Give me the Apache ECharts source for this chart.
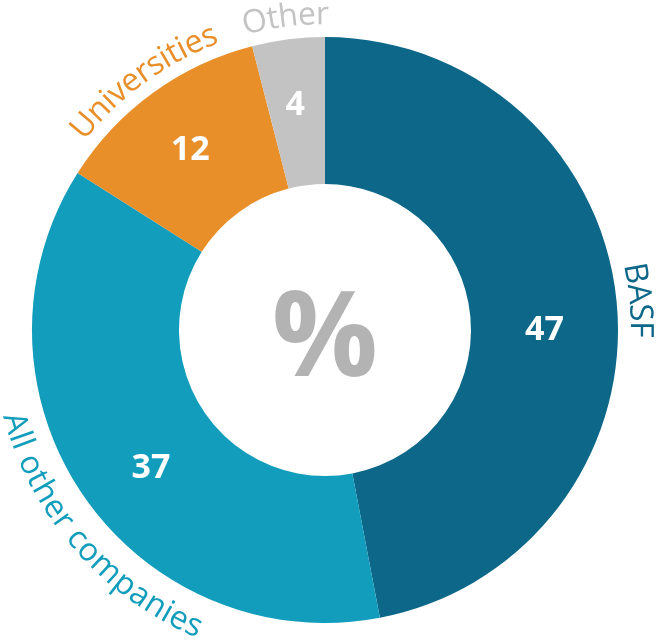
<!DOCTYPE html>
<html><head><meta charset="utf-8">
<script src="https://cdn.jsdelivr.net/npm/echarts@6/dist/echarts.min.js"></script>
<style>html,body{margin:0;padding:0;background:#fff}#c{width:660px;height:643px}</style>
</head><body><div id="c"></div>
<script>
// ---- data ----
const categories = ['BASF', 'All other companies', 'Universities', 'Other'];
const values = [47, 37, 12, 4];
const centerText = '%';

// ---- styles ----
const sliceColors = ['#0c6789', '#119dbb', '#e88f2a', '#c3c3c3'];
const nameColors  = ['#0c6789', '#119dbb', '#e88f2a', '#c3c3c3'];
const CX = 325, CY = 330, R_IN = 146, R_OUT = 293;
const FONT = '"Open Sans", "Noto Sans", sans-serif';
const NAME_SIZE = 32;
const NAME_WEIGHT = 500;
const R_TOP_MID = 315;     // radius of text middle for labels on the upper part (tops outward)
const R_BOTTOM_MID = 324;  // radius of text middle for labels reading along the bottom (tops inward)
const nameAngleShift = { 'All other companies': -7 };
const valueLabelOffset = { 'BASF': [-2, 21], 'All other companies': [10, 13], 'Universities': [-4, 0], 'Other': [-2, -4] };

const chart = echarts.init(document.getElementById('c'), null, { renderer: 'canvas' });
const total = values.reduce((a, b) => a + b, 0);
const ctx = document.createElement('canvas').getContext('2d');
const nameFont = NAME_WEIGHT + ' ' + NAME_SIZE + 'px ' + FONT;
ctx.font = nameFont;

function arcText(text, centerDeg, rMid, topsOutward, color) {
  const full = ctx.measureText(text).width;
  const c = centerDeg * Math.PI / 180;
  const chars = [...text];
  const els = [];
  for (let i = 0; i < chars.length; i++) {
    if (chars[i] === ' ') continue;
    const w0 = ctx.measureText(text.slice(0, i)).width;
    const w1 = ctx.measureText(text.slice(0, i + 1)).width;
    const d = ((w0 + w1) / 2 - full / 2) / rMid;
    const t = topsOutward ? c + d : c - d;
    els.push({
      type: 'text',
      x: CX + rMid * Math.sin(t),
      y: CY - rMid * Math.cos(t),
      rotation: topsOutward ? -t : -(t + Math.PI),
      silent: true,
      style: {
        text: chars[i], font: nameFont, fill: color,
        align: 'center', verticalAlign: 'middle'
      }
    });
  }
  return els;
}

const graphics = [];
let acc = 0;
categories.forEach((name, i) => {
  const midDeg = (acc + values[i] / 2) / total * 360 + (nameAngleShift[name] || 0);
  acc += values[i];
  const m = ((midDeg % 360) + 360) % 360;
  const bottom = m > 100 && m < 260;
  graphics.push(...arcText(name, midDeg, bottom ? R_BOTTOM_MID : R_TOP_MID, !bottom, nameColors[i]));
});
graphics.push({
  type: 'text', x: CX, y: CY + 12, silent: true,
  style: { text: centerText, font: 'bold 118px ' + FONT, fill: '#b3b3b3', align: 'center', verticalAlign: 'middle' }
});

chart.setOption({
  animation: false,
  series: [{
    type: 'pie',
    center: [CX, CY],
    radius: [R_IN, R_OUT],
    startAngle: 90,
    clockwise: true,
    silent: true,
    avoidLabelOverlap: false,
    label: {
      show: true, position: 'inside', formatter: '{c}',
      color: '#ffffff', fontSize: 34, fontWeight: 'bold', fontFamily: FONT
    },
    labelLine: { show: false },
    itemStyle: { borderWidth: 0 },
    data: categories.map((name, i) => ({
      name, value: values[i],
      itemStyle: { color: sliceColors[i] },
      label: { offset: valueLabelOffset[name] || [0, 0] }
    }))
  }],
  graphic: graphics
});
</script>
</body></html>
